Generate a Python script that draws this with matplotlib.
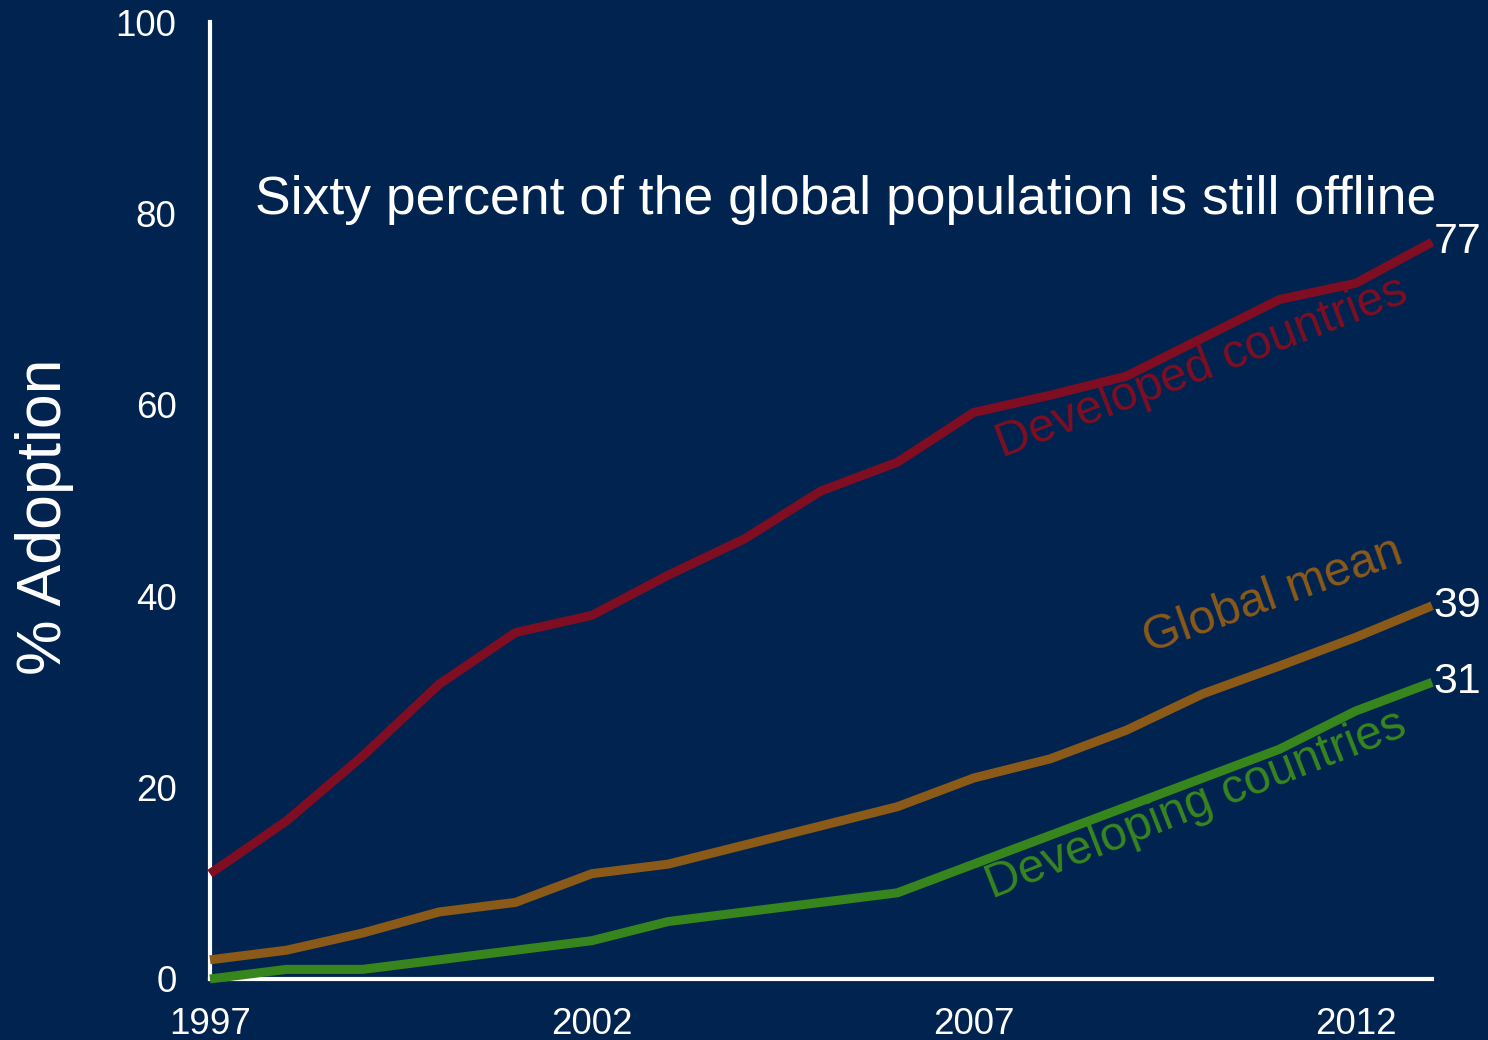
import numpy as np
import matplotlib.pyplot as plt

plt.rcParams['font.family'] = ['Liberation Sans', 'DejaVu Sans']

years = list(range(1997, 2014))
developed = [11, 16.5, 23.3, 30.8, 36.2, 38, 42.2, 46, 51, 54, 59.2, 61, 63, 67, 71, 72.7, 77]
global_mean = [2, 3, 4.8, 7, 8, 11, 12, 14, 16, 18, 21, 23, 26, 29.8, 32.7, 35.7, 39]
developing = [0, 1, 1, 2, 3, 4, 6, 7, 8, 9, 12, 15, 18, 21, 24, 28, 31]

bg = '#01234f'
c_dev = '#7f0e22'
c_glob = '#8b5a19'
c_devg = '#37861d'

fig = plt.figure(figsize=(14.88, 10.4), dpi=100, facecolor=bg)
ax = fig.add_axes([0.1411, 0.0587, 0.9624 - 0.1411, 0.9788 - 0.0587])
ax.set_facecolor(bg)

for vals, col in [(developed, c_dev), (global_mean, c_glob), (developing, c_devg)]:
    ax.plot(years, vals, color=col, lw=6.5, solid_joinstyle='round',
            solid_capstyle='butt', clip_on=False, zorder=3)

ax.set_xlim(1997, 2013)
ax.set_ylim(0, 100)
ax.set_xticks([1997, 2002, 2007, 2012])
ax.set_yticks([0, 20, 40, 60, 80, 100])
ax.tick_params(length=0, colors='white', labelsize=26.5)
ax.tick_params(axis='y', pad=24)
ax.tick_params(axis='x', pad=20)

for s in ['top', 'right']:
    ax.spines[s].set_visible(False)
for s in ['left', 'bottom']:
    ax.spines[s].set_color('white')
    ax.spines[s].set_linewidth(3)

ax.set_ylabel('% Adoption', color='white', fontsize=45)
ax.yaxis.set_label_coords(-0.111, 0.483)

ax.text(0.0368, 0.814, 'Sixty percent of the global population is still offline',
        transform=ax.transAxes, color='white', fontsize=38.5, ha='left', va='center')

# series labels along the lines
ax.text(2007.37, 54.5, 'Developed countries', color=c_dev, fontsize=34.5,
        rotation=21, rotation_mode='anchor', ha='left', va='baseline')
ax.text(2009.3, 34.1, 'Global mean', color=c_glob, fontsize=34.5,
        rotation=19.5, rotation_mode='anchor', ha='left', va='baseline')
ax.text(2007.24, 8.4, 'Developing countries', color=c_devg, fontsize=34.5,
        rotation=21.5, rotation_mode='anchor', ha='left', va='baseline')

# end values
for vals in [developed, global_mean, developing]:
    ax.text(years[-1] + 0.02, vals[-1], f'{vals[-1]:.0f}', color='white',
            fontsize=31, ha='left', va='center')

fig.savefig('out.png', dpi=100, facecolor=bg)
